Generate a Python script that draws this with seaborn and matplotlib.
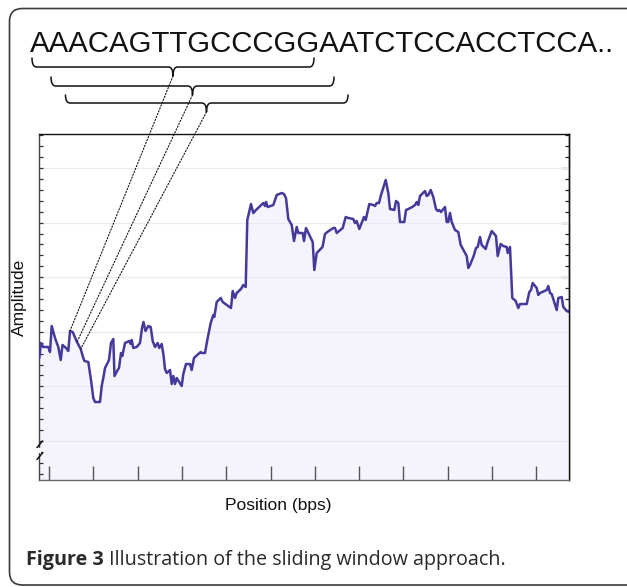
import numpy as np
import pandas as pd
import matplotlib
matplotlib.use("Agg")
import matplotlib.pyplot as plt
import seaborn as sns
from matplotlib.patches import FancyBboxPatch, PathPatch, ConnectionPatch, Rectangle
from matplotlib.path import Path
from matplotlib.transforms import Affine2D
from matplotlib.lines import Line2D
from matplotlib.ticker import FixedLocator

# ---------------- data ----------------
sequence = "AAACAGTTGCCCGGAATCTCCACCTCCA.."
positions = [
    0.3, 2, 4.3, 9.3, 11, 12.7, 16, 19.3, 21.7, 23.5,
    27, 29.3, 31, 33.7, 38, 41.7, 44.3, 45.5, 49.3, 52,
    54.3, 56, 61, 62.7, 64.3, 66, 70, 72, 74.3, 75.5,
    78.7, 80, 82, 83.3, 86, 90.3, 91.7, 92.7, 94.3, 97.7,
    101, 103, 104.5, 106.5, 109.3, 111.7, 113.7, 116, 118.7, 120.3,
    122.7, 124.5, 126, 127.7, 131, 132.7, 134.3, 136, 137.7, 142.7,
    144.3, 147, 151, 152.7, 155, 159.3, 161.7, 162.7, 166, 168.3,
    171.7, 174.3, 175.3, 177.7, 181.7, 183.7, 192, 193.7, 196, 197.7,
    202, 204.3, 206.7, 208.3, 212, 214.3, 217, 224.3, 226, 227,
    228.7, 234.3, 237.7, 242.7, 245, 247, 249.3, 252.7, 255, 257.7,
    259.3, 263.7, 265, 267, 273.7, 275.3, 277.7, 283.5, 286, 288.3,
    294.3, 296, 297.7, 303.7, 306.7, 309.3, 314.3, 316, 317.7, 320.3,
    325, 326.7, 330.3, 334.3, 336, 337.7, 340, 341.7, 346.7, 349.3,
    351, 355.3, 357, 359.3, 361, 365.3, 367, 369.3, 373.3, 376,
    377.7, 379.3, 381, 386, 387.7, 389.3, 391.7, 394.3, 397, 398.7,
    400.3, 402, 406, 407.7, 409.3, 411, 412.7, 416, 419.3, 421.7,
    425, 427.7, 429.3, 431, 434.3, 437, 438.7, 441, 442.7, 446.7,
    448.3, 452.7, 457, 458.7, 461.7, 464.3, 467.7, 468.7, 471, 473.3,
    476.7, 479.3, 481, 487.7, 490.3, 492, 493.7, 497.7, 499.3, 501,
    507.7, 509.3, 511, 512.7, 517.7, 519.3, 522.7, 524.3, 527.7, 530,
]
amplitude = [
    122, 137, 133, 133, 128, 154, 142, 133, 120, 135,
    132, 129, 149, 148, 138, 131, 122, 119, 118, 100,
    82, 78, 78, 94, 102, 112, 120, 137, 141, 104,
    110, 112, 127, 124, 137, 139, 136, 140, 132, 133,
    137, 152, 158, 149, 154, 153, 139, 133, 137, 132,
    136, 125, 111, 107, 110, 96, 104, 96, 102, 94,
    106, 116, 116, 110, 122, 126, 128, 127, 127, 140,
    157, 165, 163, 178, 182, 178, 172, 189, 182, 187,
    191, 195, 193, 260, 276, 267, 270, 277, 274, 278,
    273, 275, 285, 287, 286, 282, 261, 255, 239, 253,
    247, 247, 239, 252, 238, 210, 227, 233, 246, 248,
    252, 252, 247, 252, 263, 262, 261, 257, 259, 251,
    263, 260, 276, 275, 274, 277, 277, 284, 300, 287,
    271, 270, 279, 277, 258, 258, 270, 271, 273, 275,
    278, 275, 284, 289, 284, 285, 290, 283, 271, 269,
    270, 268, 273, 258, 258, 267, 258, 250, 248, 235,
    229, 224, 212, 215, 223, 232, 233, 243, 235, 231,
    237, 249, 244, 224, 236, 234, 233, 227, 233, 182,
    179, 172, 176, 176, 188, 190, 197, 192, 185, 187,
    190, 194, 187, 186, 170, 182, 183, 173, 169, 168,
]
window_points = [12, 14, 15]          # curve samples the three windows point to
x_label = "Position (bps)"
y_label = "Amplitude"
caption_bold = "Figure 3"
caption_text = " Illustration of the sliding window approach."

assert len(positions) == len(amplitude)

# ---------------- styling ----------------
W, H = 627, 587
sns.set_theme(style="white")
plt.rcParams['font.family'] = ['Liberation Sans', 'DejaVu Sans']

fig = plt.figure(figsize=(W / 100, H / 100), dpi=100)
fig.patch.set_facecolor("white")
# pixel coordinates measured from the top-left corner
PX = Affine2D().scale(1 / W, -1 / H).translate(0, 1) + fig.transFigure

ax = fig.add_axes([39 / W, 1 - 480 / H, 530 / W, 346 / H])
df = pd.DataFrame({"pos": positions, "amp": amplitude})

ax.fill_between(df["pos"], df["amp"], 0, color="#F5F4FC", lw=0, zorder=0.2)
sns.lineplot(data=df, x="pos", y="amp", ax=ax, color="#45399B", lw=1.8,
             estimator=None, sort=False, zorder=3)
ax.set_xlim(0, 530)
ax.set_ylim(0, 346)
ax.set_xlabel("")
ax.set_ylabel("")

# ticks / grid
xt = 10 + 44.3 * np.arange(12)
ax.xaxis.set_major_locator(FixedLocator(xt))
ax.xaxis.set_minor_locator(FixedLocator(xt[1::3]))
yt = 39 + 54.6 * np.arange(6)
ymin = np.arange(6.24, 346, 10.92)
ax.yaxis.set_major_locator(FixedLocator(yt))
ax.yaxis.set_minor_locator(FixedLocator(ymin))
ax.set_xticklabels([])
ax.set_yticklabels([])
ax.set_axisbelow(True)
ax.grid(False)
ax.grid(True, axis="x", which="minor", color="#EBEBEF", lw=0.9)
ax.grid(True, axis="y", which="major", color="#EBEBEF", lw=0.9)
ax.tick_params(axis="x", which="major", direction="in", length=10, width=1.0,
               color="#555555", bottom=True, top=False)
ax.tick_params(axis="x", which="minor", length=0)
ax.tick_params(axis="y", which="both", direction="in", length=3, width=0.9,
               color="#333333", left=True, right=False)

sec = ax.secondary_yaxis("right")
sec.yaxis.set_major_locator(FixedLocator(yt))
sec.yaxis.set_minor_locator(FixedLocator(ymin))
sec.set_yticklabels([])
sec.tick_params(which="major", direction="in", length=6, width=0.9, color="#222222")
sec.tick_params(which="minor", direction="in", length=3, width=0.9, color="#222222")
sec.spines["right"].set_color("#111111")
sec.spines["right"].set_linewidth(1.0)

ax.spines["top"].set_color("#111111")
ax.spines["right"].set_color("#111111")
ax.spines["left"].set_color("#444444")
ax.spines["bottom"].set_color("#666666")
for s in ax.spines.values():
    s.set_linewidth(1.0)
    s.set_visible(True)

# axis labels
fig.text(278.5, 510, x_label, transform=PX, ha="center", va="baseline",
         fontsize=12.5, color="#111111")
fig.text(19, 297, y_label, transform=PX, ha="center", va="center",
         rotation=90, fontsize=12.5, color="#111111")

# axis break marks
fig.add_artist(Rectangle((37.0, 447.5), 4, 5, transform=PX, fc="white", ec="none", zorder=5))
for y0 in (447.5, 459.5):
    fig.add_artist(Line2D([37.0, 42.5], [y0, y0 - 6.5], transform=PX,
                          color="#111111", lw=1.1, zorder=6))

# sequence text
fig.text(30, 52, sequence, transform=PX, ha="left", va="baseline",
         fontsize=21.2, color="#111111")

# braces
def brace(x0, x1, xm, ym, ytop, ytip, r=4.5):
    verts = [(x0, ytop), (x0, ym), (x0 + r, ym),
             (xm - r, ym), (xm, ym), (xm, ytip),
             (xm, ym), (xm + r, ym),
             (x1 - r, ym), (x1, ym), (x1, ytop)]
    codes = [Path.MOVETO, Path.CURVE3, Path.CURVE3,
             Path.LINETO, Path.CURVE3, Path.CURVE3,
             Path.CURVE3, Path.CURVE3,
             Path.LINETO, Path.CURVE3, Path.CURVE3]
    fig.add_artist(PathPatch(Path(verts, codes), transform=PX, fill=False,
                             ec="#111111", lw=1.1, capstyle="round", joinstyle="round"))
    return xm, ytip

tips = [brace(32, 314, 173, 67, 58, 76),
        brace(51, 334, 192.5, 86, 77, 95),
        brace(65.5, 348, 206.5, 103, 95, 112)]

for (tx, ty), i in zip(tips, window_points):
    con = ConnectionPatch(xyA=(tx, ty), coordsA=PX,
                          xyB=(positions[i], amplitude[i]), coordsB=ax.transData,
                          color="#111111", lw=0.8, linestyle=(0, (1.2, 1.6)), zorder=4)
    fig.add_artist(con)

# caption
cap_size = 14.2
t1 = fig.text(26, 565, caption_bold, transform=PX, ha="left", va="baseline",
              fontsize=cap_size, fontweight="bold", family=["Open Sans", "DejaVu Sans"],
              color="#2a2a2a")
fig.canvas.draw()
bb = t1.get_window_extent()
fig.text(bb.x1, 565, caption_text, transform=PX, ha="left", va="baseline",
         fontsize=cap_size, family=["Open Sans", "DejaVu Sans"], color="#2a2a2a")

# outer rounded frame
frame = FancyBboxPatch((9.5, 8.5), 700, 576.5, boxstyle="round,pad=0,rounding_size=13",
                       transform=PX, fill=False, ec="#3a3a3a", lw=1.2, clip_on=False)
fig.add_artist(frame)

fig.savefig("out.png", dpi=100)
